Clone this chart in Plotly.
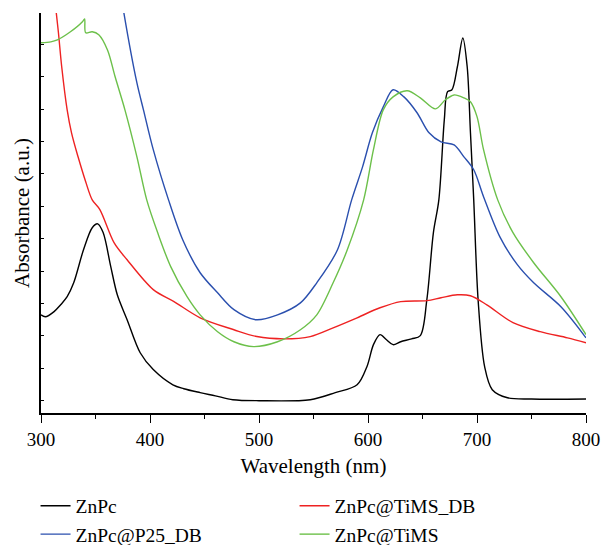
import plotly.graph_objects as go

# UV-vis absorption spectra (wavelength in nm, absorbance in a.u.)
znpc_wl = [300, 304, 312, 318, 324, 330, 339, 347, 352, 357, 364, 370, 379, 391, 403, 421, 431, 446,
           460, 476, 500, 547, 570, 590, 599, 605, 611, 617, 623, 630, 640, 648, 654, 660, 665, 670,
           673, 677, 682, 687, 691, 694, 697, 701, 707, 714, 728, 750, 800]
znpc_abs = [0.265, 0.259, 0.275, 0.296, 0.321, 0.364, 0.466, 0.534, 0.546, 0.519, 0.414, 0.327, 0.250,
            0.148, 0.096, 0.049, 0.037, 0.025, 0.015, 0.003, 0.000, 0.003, 0.025, 0.049, 0.105, 0.173,
            0.204, 0.188, 0.173, 0.182, 0.191, 0.201, 0.312, 0.519, 0.620, 0.867, 0.954, 0.960, 1.031,
            1.120, 1.031, 0.827, 0.620, 0.312, 0.105, 0.034, 0.009, 0.005, 0.005]

tims_db_wl = [310, 314, 316, 319, 324, 328, 334, 341, 347, 354, 367, 379, 403, 422, 446, 477, 498, 523,
              547, 568, 590, 611, 630, 654, 667, 682, 694, 709, 733, 758, 783, 800]
tims_db_abs = [1.330, 1.198, 1.136, 1.031, 0.898, 0.827, 0.753, 0.676, 0.620, 0.590, 0.488, 0.435, 0.343,
               0.306, 0.256, 0.219, 0.198, 0.191, 0.198, 0.225, 0.256, 0.287, 0.306, 0.309, 0.318, 0.327,
               0.324, 0.296, 0.241, 0.213, 0.194, 0.179]

p25_db_wl = [370, 376, 388, 394, 403, 417, 430, 446, 462, 477, 497, 517, 538, 553, 572, 585, 595, 604,
             614, 623, 633, 645, 656, 667, 679, 688, 697, 706, 721, 737, 752, 777, 800]
p25_db_abs = [1.330, 1.198, 0.981, 0.898, 0.775, 0.620, 0.497, 0.395, 0.333, 0.281, 0.250, 0.265, 0.302,
              0.364, 0.466, 0.620, 0.722, 0.827, 0.907, 0.960, 0.938, 0.889, 0.827, 0.799, 0.790, 0.753,
              0.713, 0.630, 0.506, 0.420, 0.364, 0.290, 0.194]

tims_wl = [300, 309, 315, 327, 338, 340, 341, 347, 353, 361, 368, 377, 388, 397, 407, 419, 434, 446, 462,
           477, 495, 517, 538, 553, 568, 581, 596, 605, 614, 623, 636, 648, 662, 671, 679, 688, 694, 700,
           706, 719, 733, 752, 777, 800]
tims_abs = [1.105, 1.108, 1.114, 1.139, 1.170, 1.179, 1.136, 1.139, 1.130, 1.083, 1.000, 0.898, 0.753,
            0.620, 0.519, 0.414, 0.321, 0.265, 0.213, 0.182, 0.167, 0.182, 0.219, 0.265, 0.364, 0.466,
            0.620, 0.775, 0.898, 0.938, 0.957, 0.935, 0.901, 0.929, 0.944, 0.935, 0.923, 0.877, 0.775,
            0.620, 0.519, 0.426, 0.321, 0.204]

series = [
    ("ZnPc", znpc_wl, znpc_abs, "#000000"),
    ("ZnPc@TiMS_DB", tims_db_wl, tims_db_abs, "#ee2222"),
    ("ZnPc@P25_DB", p25_db_wl, p25_db_abs, "#2a4fae"),
    ("ZnPc@TiMS", tims_wl, tims_abs, "#6cc04a"),
]

FONT = "Liberation Serif, Times New Roman, DejaVu Serif, serif"

fig = go.Figure()
for name, wl, ab, color in series:
    fig.add_trace(go.Scatter(
        x=wl, y=ab, name=name, mode="lines",
        line=dict(color=color, width=1.4, shape="spline", smoothing=0.9),
    ))

fig.update_layout(
    width=604, height=545,
    margin=dict(l=41, r=18, t=13, b=132, autoexpand=False),
    paper_bgcolor="white", plot_bgcolor="white",
    font=dict(family=FONT, size=19, color="#000000"),
    showlegend=True,
    legend=dict(
        orientation="h", x=-0.01, y=-0.184, xanchor="left", yanchor="top",
        entrywidth=214, entrywidthmode="pixels",
        font=dict(family=FONT, size=19.5), tracegroupgap=0,
        bgcolor="rgba(0,0,0,0)",
    ),
    xaxis=dict(
        range=[300, 800], tickmode="linear", tick0=300, dtick=100,
        ticks="outside", ticklen=8, tickwidth=1, tickcolor="#000",
        minor=dict(dtick=50, ticks="outside", ticklen=4, tickcolor="#000"),
        showline=True, linecolor="#000", linewidth=1.5,
        showgrid=False, zeroline=False,
        title=dict(text="Wavelength (nm)", font=dict(family=FONT, size=21), standoff=10),
        tickfont=dict(family=FONT, size=19),
    ),
    yaxis=dict(
        range=[-0.038, 1.197], tickmode="linear", tick0=0, dtick=0.1,
        ticks="inside", ticklen=3, tickwidth=1, tickcolor="#000",
        showticklabels=False,
        showline=True, linecolor="#000", linewidth=1.5,
        showgrid=False, zeroline=False,
        title=dict(text="Absorbance (a.u.)", font=dict(family=FONT, size=21), standoff=4),
    ),
)

fig.write_html("out.html")
